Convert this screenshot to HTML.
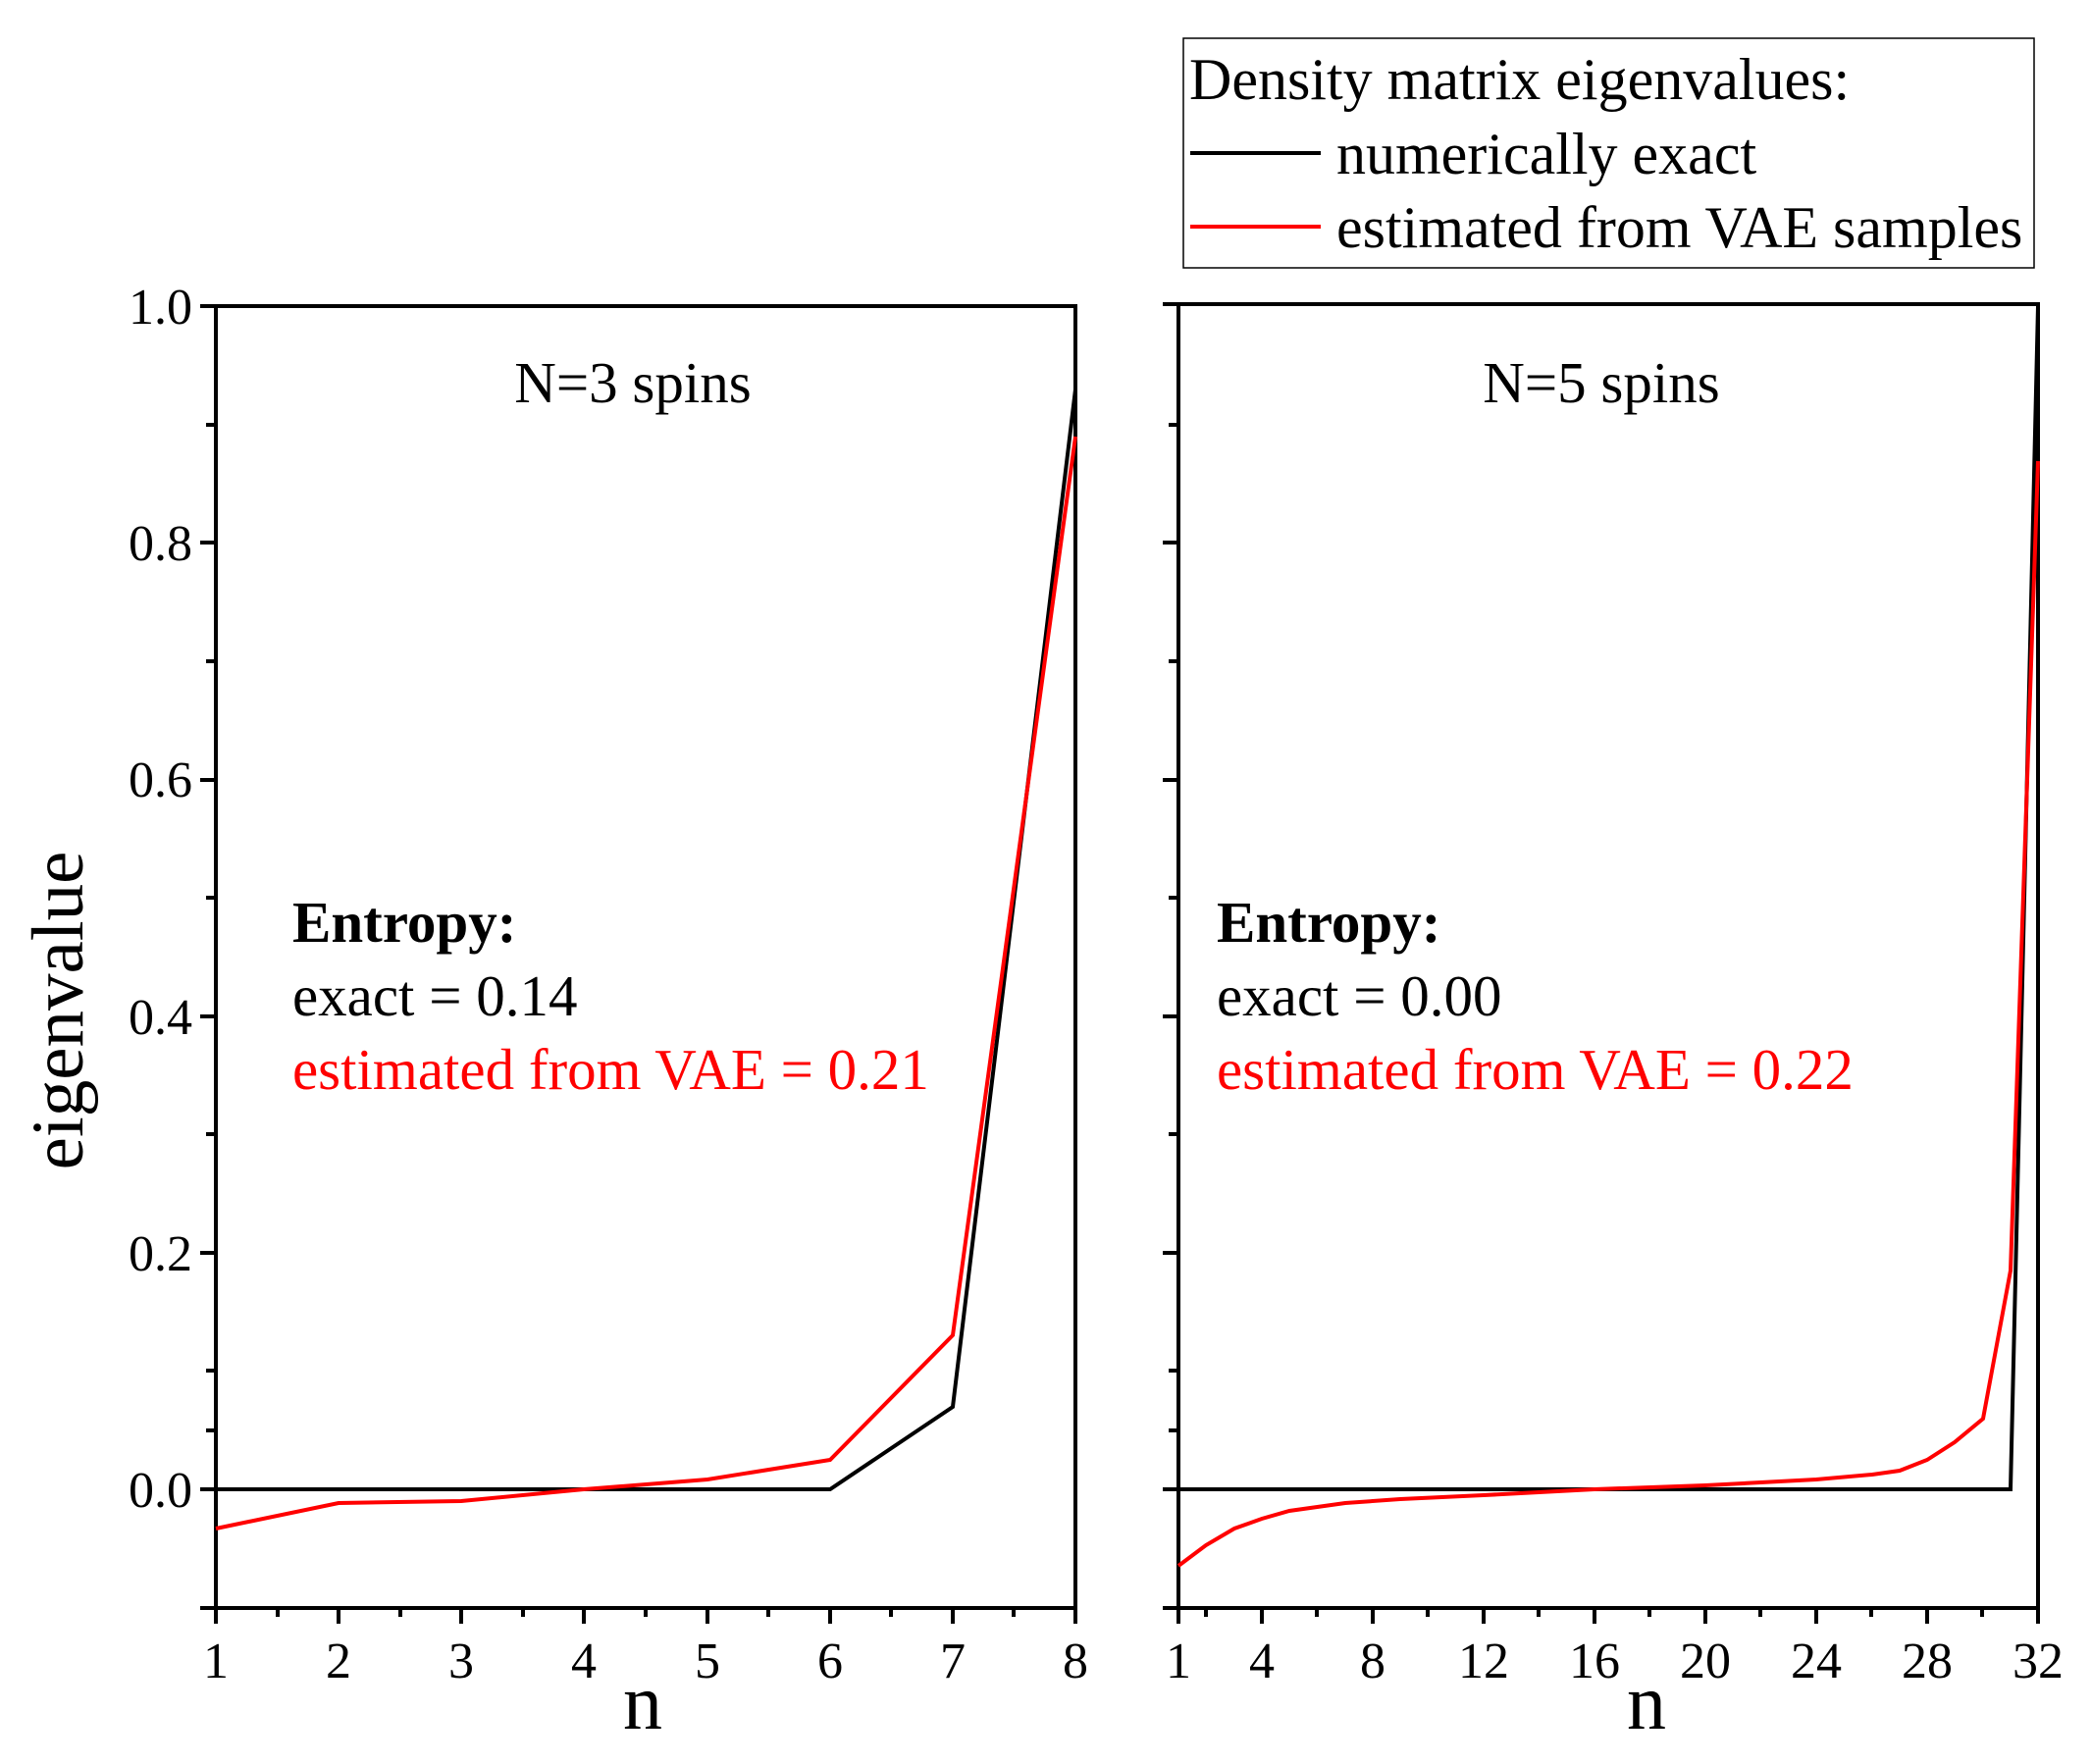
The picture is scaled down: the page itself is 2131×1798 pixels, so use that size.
<!DOCTYPE html>
<html><head><style>html,body{margin:0;padding:0;background:#fff}svg{display:block}</style></head>
<body>
<svg width="2131" height="1798" viewBox="0 0 2131 1798" xmlns="http://www.w3.org/2000/svg" font-family="Liberation Serif, serif">
<rect width="2131" height="1798" fill="#fff"/>
<!-- Legend -->
<rect x="1206" y="39" width="867" height="234" fill="none" stroke="#000" stroke-width="1.5"/>
<text x="1212" y="101" font-size="60">Density matrix eigenvalues:</text>
<line x1="1213" y1="156" x2="1346" y2="156" stroke="#000" stroke-width="4"/>
<text x="1362" y="177" font-size="60">numerically exact</text>
<line x1="1213" y1="231" x2="1346" y2="231" stroke="#f00" stroke-width="4"/>
<text x="1362" y="252" font-size="60">estimated from VAE samples</text>

<!-- Left panel -->
<g stroke="#000" stroke-width="4" fill="none">
<rect x="220" y="312" width="876" height="1327"/>
<line x1="204" y1="1639" x2="220" y2="1639"/><line x1="204" y1="1518" x2="220" y2="1518"/><line x1="210" y1="1458" x2="220" y2="1458"/>
<line x1="204" y1="1277" x2="220" y2="1277"/><line x1="210" y1="1397" x2="220" y2="1397"/>
<line x1="210" y1="1156" x2="220" y2="1156"/><line x1="204" y1="1036" x2="220" y2="1036"/>
<line x1="210" y1="915" x2="220" y2="915"/><line x1="204" y1="795" x2="220" y2="795"/>
<line x1="210" y1="674" x2="220" y2="674"/><line x1="204" y1="553" x2="220" y2="553"/>
<line x1="210" y1="433" x2="220" y2="433"/><line x1="204" y1="312" x2="220" y2="312"/>
<line x1="220" y1="1639" x2="220" y2="1655"/><line x1="345" y1="1639" x2="345" y2="1655"/><line x1="470" y1="1639" x2="470" y2="1655"/><line x1="595" y1="1639" x2="595" y2="1655"/><line x1="721" y1="1639" x2="721" y2="1655"/><line x1="846" y1="1639" x2="846" y2="1655"/><line x1="971" y1="1639" x2="971" y2="1655"/><line x1="1096" y1="1639" x2="1096" y2="1655"/>
<line x1="283" y1="1639" x2="283" y2="1648"/><line x1="408" y1="1639" x2="408" y2="1648"/><line x1="533" y1="1639" x2="533" y2="1648"/><line x1="658" y1="1639" x2="658" y2="1648"/><line x1="783" y1="1639" x2="783" y2="1648"/><line x1="908" y1="1639" x2="908" y2="1648"/><line x1="1033" y1="1639" x2="1033" y2="1648"/>
</g>
<g font-size="52" text-anchor="end">
<text x="196" y="330">1.0</text><text x="196" y="571">0.8</text><text x="196" y="812">0.6</text><text x="196" y="1054">0.4</text><text x="196" y="1295">0.2</text><text x="196" y="1536">0.0</text>
</g>
<g font-size="52" text-anchor="middle">
<text x="220" y="1710">1</text><text x="345" y="1710">2</text><text x="470" y="1710">3</text><text x="595" y="1710">4</text><text x="721" y="1710">5</text><text x="846" y="1710">6</text><text x="971" y="1710">7</text><text x="1096" y="1710">8</text>
</g>
<text x="655" y="1762" font-size="80" text-anchor="middle">n</text>
<text transform="translate(84,1030) rotate(-90)" font-size="75" text-anchor="middle">eigenvalue</text>
<text x="645" y="410" font-size="59" text-anchor="middle">N=3 spins</text>
<text x="298" y="960" font-size="59" font-weight="bold">Entropy:</text>
<text x="298" y="1035" font-size="59">exact = 0.14</text>
<text x="298" y="1110" font-size="59" fill="#f00">estimated from VAE = 0.21</text>
<polyline fill="none" stroke="#000" stroke-width="4" points="220,1518 345,1518 470,1518 595,1518 721,1518 846,1518 971,1434 1096,397"/>
<polyline fill="none" stroke="#f00" stroke-width="4" points="220,1558 345,1532 470,1530 595,1518 721,1508 846,1488 971,1361 1096,445"/>

<!-- Right panel -->
<g stroke="#000" stroke-width="4" fill="none">
<rect x="1201" y="310" width="876" height="1329"/>
<line x1="1185" y1="1639" x2="1201" y2="1639"/><line x1="1185" y1="1518" x2="1201" y2="1518"/><line x1="1191" y1="1458" x2="1201" y2="1458"/>
<line x1="1185" y1="1277" x2="1201" y2="1277"/><line x1="1191" y1="1397" x2="1201" y2="1397"/>
<line x1="1191" y1="1156" x2="1201" y2="1156"/><line x1="1185" y1="1036" x2="1201" y2="1036"/>
<line x1="1191" y1="915" x2="1201" y2="915"/><line x1="1185" y1="795" x2="1201" y2="795"/>
<line x1="1191" y1="674" x2="1201" y2="674"/><line x1="1185" y1="553" x2="1201" y2="553"/>
<line x1="1191" y1="433" x2="1201" y2="433"/><line x1="1185" y1="310" x2="1201" y2="310"/>
<line x1="1201" y1="1639" x2="1201" y2="1655"/><line x1="1286" y1="1639" x2="1286" y2="1655"/><line x1="1399" y1="1639" x2="1399" y2="1655"/><line x1="1512" y1="1639" x2="1512" y2="1655"/><line x1="1625" y1="1639" x2="1625" y2="1655"/><line x1="1738" y1="1639" x2="1738" y2="1655"/><line x1="1851" y1="1639" x2="1851" y2="1655"/><line x1="1964" y1="1639" x2="1964" y2="1655"/><line x1="2077" y1="1639" x2="2077" y2="1655"/>
<line x1="1229" y1="1639" x2="1229" y2="1648"/><line x1="1342" y1="1639" x2="1342" y2="1648"/><line x1="1455" y1="1639" x2="1455" y2="1648"/><line x1="1568" y1="1639" x2="1568" y2="1648"/><line x1="1681" y1="1639" x2="1681" y2="1648"/><line x1="1794" y1="1639" x2="1794" y2="1648"/><line x1="1907" y1="1639" x2="1907" y2="1648"/><line x1="2020" y1="1639" x2="2020" y2="1648"/>
</g>
<g font-size="52" text-anchor="middle">
<text x="1201" y="1710">1</text><text x="1286" y="1710">4</text><text x="1399" y="1710">8</text><text x="1512" y="1710">12</text><text x="1625" y="1710">16</text><text x="1738" y="1710">20</text><text x="1851" y="1710">24</text><text x="1964" y="1710">28</text><text x="2077" y="1710">32</text>
</g>
<text x="1678" y="1762" font-size="80" text-anchor="middle">n</text>
<text x="1632" y="410" font-size="59" text-anchor="middle">N=5 spins</text>
<text x="1240" y="960" font-size="59" font-weight="bold">Entropy:</text>
<text x="1240" y="1035" font-size="59">exact = 0.00</text>
<text x="1240" y="1110" font-size="59" fill="#f00">estimated from VAE = 0.22</text>
<polyline fill="none" stroke="#000" stroke-width="4" points="1201,1518 2049,1518 2077,312"/>
<polyline fill="none" stroke="#f00" stroke-width="4" points="1201,1596 1229,1575 1258,1558 1286,1548 1314,1540 1371,1532 1427,1528 1512,1524 1625,1518 1738,1514 1851,1508 1908,1503 1936,1499 1964,1488 1992,1470 2021,1446 2049,1295 2077,470"/>
</svg>
</body></html>
